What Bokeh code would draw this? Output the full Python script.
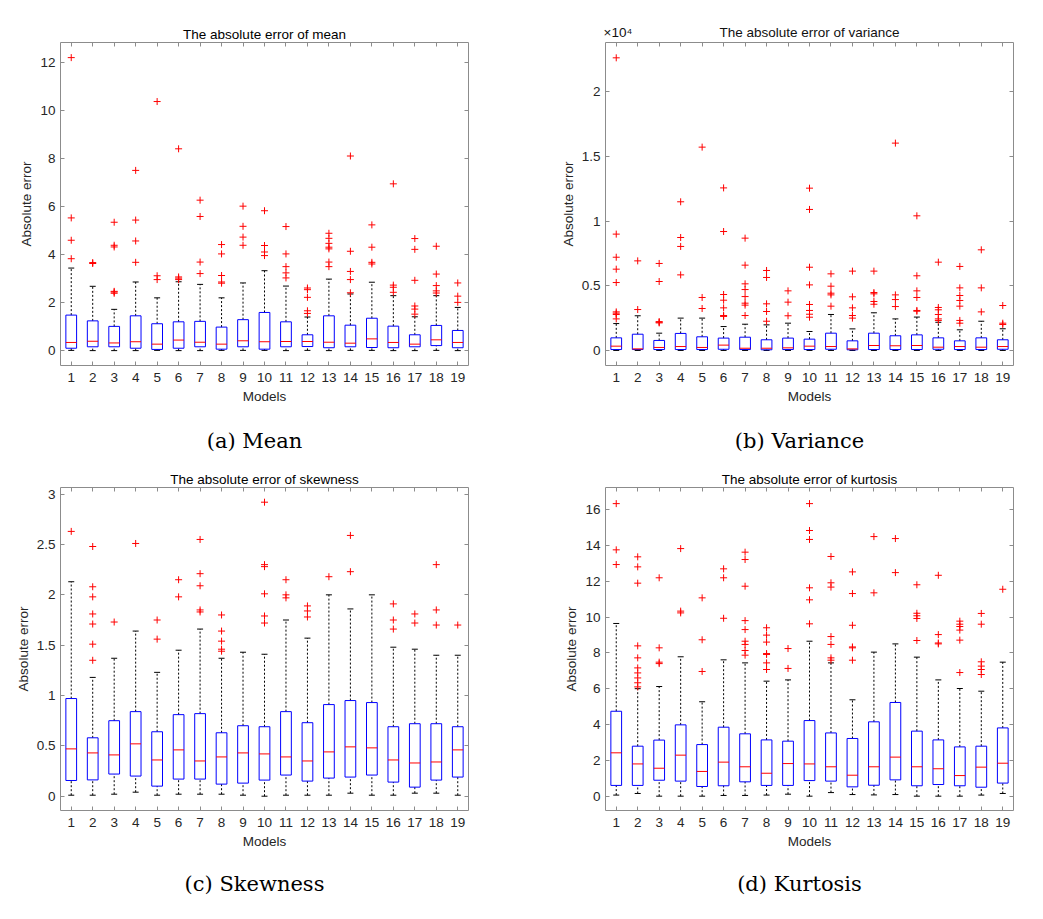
from bokeh.plotting import figure
from bokeh.layouts import column, row
from bokeh.models import (ColumnDataSource, FixedTicker, LinearAxis, Range1d,
                          Label, NumeralTickFormatter)
from bokeh.embed import file_html
from bokeh.resources import INLINE

models = list(range(1, 20))

# ---------------- (a) Mean ----------------
mean_lo = [0.02, 0.01, 0.01, 0.01, 0.02, 0.01, 0.01, 0.02, 0.02, 0.02, 0.01, 0.02, 0.01, 0.02, 0.02, 0.01, 0.01, 0.02, 0.01]
mean_q1 = [0.11, 0.17, 0.17, 0.11, 0.06, 0.11, 0.17, 0.07, 0.17, 0.07, 0.17, 0.18, 0.13, 0.17, 0.14, 0.13, 0.17, 0.22, 0.13]
mean_med = [0.35, 0.40, 0.33, 0.38, 0.28, 0.45, 0.36, 0.28, 0.42, 0.38, 0.39, 0.39, 0.36, 0.32, 0.50, 0.35, 0.28, 0.46, 0.35]
mean_q3 = [1.49, 1.25, 1.02, 1.46, 1.13, 1.21, 1.23, 0.99, 1.30, 1.60, 1.21, 0.67, 1.46, 1.07, 1.36, 1.03, 0.67, 1.06, 0.85]
mean_hi = [3.45, 2.69, 1.73, 2.87, 2.21, 2.88, 2.77, 2.21, 2.83, 3.34, 2.70, 1.41, 2.99, 2.37, 2.86, 2.30, 1.42, 2.30, 1.81]
mean_out = [
    [12.22, 5.54, 4.61, 3.84],
    [3.64, 3.68],
    [5.36, 4.33, 4.40, 2.40, 2.45, 2.48],
    [7.52, 5.45, 4.58, 3.69],
    [10.39, 3.13, 2.97],
    [8.42, 3.08, 3.03, 2.97],
    [6.28, 5.60, 3.70, 3.22],
    [4.43, 4.04, 3.14, 2.87, 2.82],
    [6.03, 5.19, 4.74, 4.40],
    [5.84, 4.39, 4.12, 3.97],
    [5.18, 4.04, 3.51, 3.25, 3.04],
    [2.62, 2.55, 2.23, 1.67, 1.56],
    [4.90, 4.69, 4.48, 4.32, 4.25, 3.70, 3.51],
    [8.12, 4.15, 3.31, 2.97, 2.42],
    [5.25, 4.32, 3.69, 3.62],
    [6.96, 2.74, 2.65, 2.44],
    [4.68, 4.23, 2.94, 1.87, 1.74, 1.53],
    [4.36, 3.20, 2.72, 2.50, 2.41],
    [2.83, 2.28, 2.02],
]

# ---------------- (b) Variance (units of 1e4) ----------------
var_lo = [0.003] * 19
var_q1 = [0.010, 0.010, 0.010, 0.010, 0.010, 0.012, 0.010, 0.008, 0.010, 0.010, 0.012, 0.008, 0.010, 0.010, 0.010, 0.012, 0.010, 0.010, 0.012]
var_med = [0.036, 0.015, 0.026, 0.033, 0.026, 0.044, 0.020, 0.020, 0.023, 0.036, 0.033, 0.015, 0.041, 0.039, 0.041, 0.028, 0.033, 0.028, 0.033]
var_q3 = [0.100, 0.128, 0.080, 0.134, 0.108, 0.098, 0.105, 0.085, 0.098, 0.090, 0.136, 0.077, 0.136, 0.116, 0.123, 0.100, 0.077, 0.100, 0.085]
var_hi = [0.210, 0.270, 0.136, 0.252, 0.252, 0.187, 0.205, 0.200, 0.213, 0.149, 0.280, 0.169, 0.293, 0.246, 0.260, 0.220, 0.162, 0.228, 0.170]
var_out = [
    [2.257, 0.899, 0.721, 0.629, 0.526, 0.300, 0.290, 0.280, 0.246],
    [0.693, 0.318],
    [0.673, 0.534, 0.225, 0.220, 0.215],
    [1.148, 0.873, 0.804, 0.585],
    [1.569, 0.411, 0.326],
    [1.255, 0.919, 0.434, 0.390, 0.331, 0.272, 0.265],
    [0.868, 0.660, 0.516, 0.472, 0.418, 0.367, 0.352, 0.272],
    [0.619, 0.565, 0.362, 0.303, 0.228],
    [0.462, 0.375, 0.270],
    [1.253, 1.089, 0.644, 0.508, 0.357, 0.311, 0.282, 0.259],
    [0.593, 0.498, 0.444, 0.431, 0.344],
    [0.614, 0.416, 0.331, 0.272, 0.252],
    [0.614, 0.449, 0.439, 0.380, 0.359],
    [1.600, 0.431, 0.395, 0.341],
    [1.040, 0.578, 0.462, 0.411, 0.311, 0.305],
    [0.683, 0.334, 0.316, 0.280, 0.246, 0.234],
    [0.650, 0.485, 0.426, 0.388, 0.344, 0.234, 0.213],
    [0.778, 0.485, 0.300],
    [0.349, 0.213, 0.203],
]

# ---------------- (c) Skewness ----------------
skew_lo = [0.01, 0.01, 0.02, 0.04, 0.01, 0.02, 0.02, 0.02, 0.01, 0.00, 0.01, 0.01, 0.01, 0.03, 0.01, 0.01, 0.03, 0.03, 0.01]
skew_q1 = [0.156, 0.162, 0.22, 0.20, 0.10, 0.17, 0.17, 0.12, 0.13, 0.16, 0.21, 0.15, 0.18, 0.19, 0.21, 0.14, 0.09, 0.16, 0.19]
skew_med = [0.47, 0.43, 0.41, 0.52, 0.36, 0.46, 0.35, 0.39, 0.43, 0.42, 0.39, 0.35, 0.44, 0.49, 0.48, 0.36, 0.33, 0.34, 0.46]
skew_q3 = [0.97, 0.58, 0.75, 0.84, 0.64, 0.81, 0.82, 0.63, 0.70, 0.69, 0.84, 0.73, 0.91, 0.95, 0.93, 0.69, 0.72, 0.72, 0.69]
skew_hi = [2.13, 1.18, 1.37, 1.64, 1.23, 1.45, 1.66, 1.37, 1.43, 1.41, 1.75, 1.57, 2.00, 1.86, 2.00, 1.48, 1.46, 1.40, 1.40]
skew_out = [
    [2.63],
    [2.48, 2.08, 1.98, 1.81, 1.71, 1.51, 1.35],
    [1.73],
    [2.51],
    [1.75, 1.56],
    [2.15, 1.98],
    [2.55, 2.21, 2.09, 1.85, 1.83],
    [1.80, 1.64, 1.54, 1.46, 1.44],
    [],
    [2.92, 2.30, 2.28, 2.01, 1.79, 1.72],
    [2.15, 2.00, 1.97],
    [1.89, 1.84, 1.78],
    [2.18],
    [2.59, 2.23],
    [],
    [1.91, 1.75, 1.66],
    [1.81, 1.72],
    [2.30, 1.85, 1.70],
    [1.70],
]

# ---------------- (d) Kurtosis ----------------
kurt_lo = [0.06, 0.15, 0.00, 0.00, 0.00, 0.04, 0.04, 0.06, 0.11, 0.00, 0.20, 0.09, 0.07, 0.09, 0.00, 0.00, 0.00, 0.06, 0.15]
kurt_q1 = [0.60, 0.60, 0.89, 0.84, 0.54, 0.58, 0.80, 0.60, 0.60, 0.87, 0.84, 0.52, 0.61, 0.91, 0.58, 0.65, 0.58, 0.50, 0.73]
kurt_med = [2.42, 1.80, 1.56, 2.29, 1.38, 1.90, 1.64, 1.28, 1.82, 1.80, 1.64, 1.17, 1.64, 2.18, 1.64, 1.53, 1.15, 1.62, 1.84]
kurt_q3 = [4.74, 2.79, 3.13, 3.98, 2.88, 3.85, 3.48, 3.14, 3.07, 4.22, 3.53, 3.22, 4.15, 5.23, 3.63, 3.14, 2.75, 2.79, 3.81]
kurt_hi = [9.64, 6.00, 6.12, 7.78, 5.27, 7.61, 7.44, 6.42, 6.49, 8.65, 7.44, 5.38, 8.04, 8.50, 7.76, 6.49, 6.01, 5.86, 7.48]
kurt_out = [
    [16.33, 13.75, 12.93],
    [13.36, 12.80, 11.89, 8.39, 7.72, 7.16, 6.88, 6.60, 6.33, 6.10],
    [12.19, 8.28, 7.48, 7.40],
    [13.82, 10.33, 10.23],
    [11.07, 8.73, 6.96],
    [12.69, 12.19, 9.93],
    [13.62, 13.21, 11.72, 9.80, 9.30, 8.65, 8.47, 8.13, 7.87],
    [9.40, 8.99, 8.60, 7.96, 7.91, 7.44, 7.07],
    [8.24, 7.13],
    [16.33, 14.83, 14.33, 11.63, 10.96, 9.62],
    [13.38, 11.91, 11.67, 8.91, 8.47, 7.72, 7.59],
    [12.52, 11.31, 9.54, 8.33, 8.28, 7.59],
    [14.49, 11.35],
    [14.38, 12.48],
    [11.80, 10.21, 10.07, 9.92, 8.69],
    [12.33, 9.02, 8.55, 8.50],
    [9.77, 9.60, 9.47, 9.27, 8.71, 6.90],
    [10.20, 9.60, 7.50, 7.26, 7.07, 6.79],
    [11.55],
]

TXT = "#262626"
AXC = "#8c8c8c"
SANS = "Liberation Sans"
FS = "13.5px"


def make_panel(title, lo, q1, med, q3, hi, outs, y_range, y_ticks,
               width, height, bl, br, bt, bb, fmt=None, exp_label=None):
    p = figure(width=width, height=height,
               x_range=Range1d(0.5, 19.5), y_range=Range1d(*y_range),
               output_backend="svg", toolbar_location=None,
               min_border_left=bl, min_border_right=br,
               min_border_top=bt, min_border_bottom=bb)
    p.grid.visible = False
    p.outline_line_color = AXC
    p.outline_line_width = 1
    p.background_fill_color = "white"
    p.border_fill_color = "white"

    src = ColumnDataSource(dict(x=models, lo=lo, q1=q1, med=med, q3=q3, hi=hi,
                                mx0=[m - 0.25 for m in models],
                                mx1=[m + 0.25 for m in models]))
    # whiskers
    p.segment(x0="x", y0="q3", x1="x", y1="hi", source=src, line_color="black",
              line_dash="2 2", line_width=1)
    p.segment(x0="x", y0="lo", x1="x", y1="q1", source=src, line_color="black",
              line_dash="2 2", line_width=1)
    # caps
    p.scatter(x="x", y="hi", source=src, marker="dash", size=6, line_color="black", line_width=1)
    p.scatter(x="x", y="lo", source=src, marker="dash", size=6, line_color="black", line_width=1)
    # boxes
    p.vbar(x="x", width=0.5, top="q3", bottom="q1", source=src, fill_color=None,
           line_color="#0000ff", line_width=1)
    # medians
    p.segment(x0="mx0", y0="med", x1="mx1", y1="med", source=src, line_color="red", line_width=1)
    # outliers
    ox, oy = [], []
    for m, vals in zip(models, outs):
        for v in vals:
            ox.append(m)
            oy.append(v)
    p.scatter(x=ox, y=oy, marker="cross", size=7, line_color="red", line_width=1)

    # axes
    xa = p.xaxis[0]
    ya = p.yaxis[0]
    xa.ticker = FixedTicker(ticks=models)
    ya.ticker = FixedTicker(ticks=y_ticks)
    if fmt is not None:
        ya.formatter = fmt
    xa.axis_label = "Models"
    ya.axis_label = "Absolute error"
    for ax in (xa, ya):
        ax.axis_line_color = None
        ax.major_tick_in = 4
        ax.major_tick_out = 0
        ax.major_tick_line_color = AXC
        ax.minor_tick_line_color = None
        ax.major_label_text_font = SANS
        ax.major_label_text_font_size = FS
        ax.major_label_text_color = TXT
        ax.axis_label_text_font = SANS
        ax.axis_label_text_font_size = FS
        ax.axis_label_text_font_style = "normal"
        ax.axis_label_text_color = TXT
        ax.axis_label_standoff = 3
    xa.major_label_standoff = 7
    xa.axis_label_standoff = 4
    ya.major_label_standoff = 5

    # mirrored ticks (top / right), labels not drawn
    for loc, tick in (("above", models), ("right", y_ticks)):
        ax = LinearAxis(ticker=FixedTicker(ticks=tick))
        ax.axis_line_color = None
        ax.major_tick_in = 4
        ax.major_tick_out = 0
        ax.major_tick_line_color = AXC
        ax.minor_tick_line_color = None
        ax.major_label_text_font_size = "1px"
        ax.major_label_text_color = None
        ax.major_label_standoff = 0
        p.add_layout(ax, loc)

    if exp_label is None:
        p.title.text = title
        p.title.align = "center"
        p.title.text_font = SANS
        p.title.text_font_size = FS
        p.title.text_font_style = "normal"
        p.title.text_color = "black"
        p.title.standoff = 2
    else:
        # title and the x10^4 multiplier on one line above the frame
        p.title.text = ""
        ta = LinearAxis(ticker=FixedTicker(ticks=[1.08, 10]),
                        major_label_overrides={1.08: exp_label, 10: title})
        ta.axis_line_color = None
        ta.major_tick_in = 0
        ta.major_tick_out = 0
        ta.major_tick_line_color = None
        ta.minor_tick_line_color = None
        ta.major_label_text_font = SANS
        ta.major_label_text_font_size = FS
        ta.major_label_text_color = "#111111"
        ta.major_label_standoff = 3
        p.add_layout(ta, "above")
    return p


def make_caption(text, width, height, cx, cy_from_top):
    c = figure(width=width, height=height, x_range=Range1d(0, width),
               y_range=Range1d(0, height), output_backend="svg",
               toolbar_location=None, x_axis_location=None, y_axis_location=None,
               min_border=0, title=None)
    c.grid.visible = False
    c.outline_line_color = None
    c.add_layout(Label(x=cx, y=height - cy_from_top, text=text, text_align="center",
                       text_baseline="middle", text_font="DejaVu Serif",
                       text_font_size="21px", text_color="black"))
    return c


pa = make_panel("The absolute error of mean",
                mean_lo, mean_q1, mean_med, mean_q3, mean_hi, mean_out,
                (-0.61, 12.85), [0, 2, 4, 6, 8, 10, 12],
                523, 410, 60, 55, 42, 45)
pb = make_panel("The absolute error of variance",
                var_lo, var_q1, var_med, var_q3, var_hi, var_out,
                (-0.113, 2.375), [0, 0.5, 1, 1.5, 2],
                520, 410, 82, 30, 42, 45,
                fmt=NumeralTickFormatter(format="0.[0]"), exp_label="\u00d710\u2074")
pc = make_panel("The absolute error of skewness",
                skew_lo, skew_q1, skew_med, skew_q3, skew_hi, skew_out,
                (-0.142, 3.066), [0, 0.5, 1, 1.5, 2, 2.5, 3],
                523, 395, 60, 55, 27, 45,
                fmt=NumeralTickFormatter(format="0.[0]"))
pd_ = make_panel("The absolute error of kurtosis",
                 kurt_lo, kurt_q1, kurt_med, kurt_q3, kurt_hi, kurt_out,
                 (-0.80, 17.23), [0, 2, 4, 6, 8, 10, 12, 14, 16],
                 520, 395, 82, 30, 27, 45)

ca = make_caption("(a) Mean", 523, 50, 254, 30)
cb = make_caption("(b) Variance", 520, 50, 276, 30)
cc = make_caption("(c) Skewness", 523, 64, 254, 28)
cd = make_caption("(d) Kurtosis", 520, 64, 276, 28)

layout = column(row(pa, pb), row(ca, cb), row(pc, pd_), row(cc, cd))
open("out.html", "w").write(file_html(layout, INLINE))
